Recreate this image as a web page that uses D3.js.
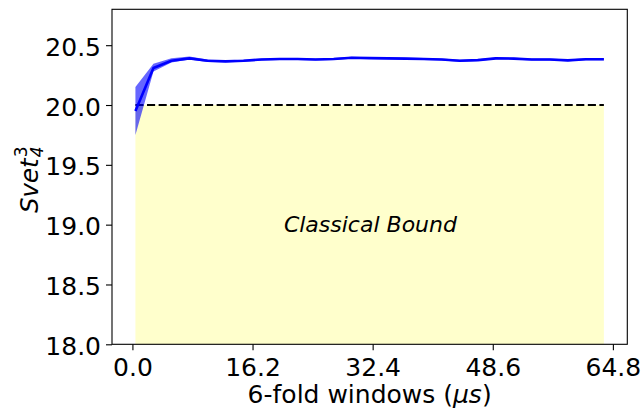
<!DOCTYPE html>
<html>
<head>
<meta charset="utf-8">
<script src="https://cdn.jsdelivr.net/npm/d3@7"></script>
<style>
  html, body { margin: 0; padding: 0; background: #fff; }
  svg { display: block; }
  text { font-family: "DejaVu Sans", sans-serif; fill: #000; }
</style>
</head>
<body>
<svg id="chart" width="642" height="410"></svg>
<script>
// ---- data ----
const windowIndex = d3.range(27);
const windowsUs = windowIndex.map(i => 0.405 * (1 + 6 * i));
const svetMean = [19.95, 20.31, 20.37, 20.39, 20.37, 20.365, 20.37, 20.38, 20.385, 20.385,
                  20.38, 20.385, 20.395, 20.392, 20.39, 20.388, 20.385, 20.38, 20.37, 20.375,
                  20.39, 20.388, 20.38, 20.38, 20.373, 20.382, 20.382];
const svetLower = [19.75, 20.28, 20.355, 20.38, 20.36, 20.357, 20.362, 20.372, 20.377, 20.377,
                   20.372, 20.377, 20.387, 20.384, 20.382, 20.38, 20.377, 20.372, 20.362, 20.367,
                   20.382, 20.38, 20.372, 20.372, 20.365, 20.374, 20.374];
const svetUpper = [20.15, 20.345, 20.39, 20.405, 20.38, 20.373, 20.378, 20.388, 20.393, 20.393,
                   20.388, 20.393, 20.403, 20.4, 20.398, 20.396, 20.393, 20.388, 20.378, 20.383,
                   20.398, 20.396, 20.388, 20.388, 20.381, 20.39, 20.39];
const classicalBound = 20.0;
const yFloor = 18.0;
const xTicks = [0, 16.2, 32.4, 48.6, 64.8];
const yTicks = [18.0, 18.5, 19.0, 19.5, 20.0, 20.5];
const boundLabel = "Classical Bound";
const boundLabelPos = [32.1, 18.94];

// ---- layout ----
const svg = d3.select("#chart");
const L = 112, R = 627.3, T = 9.3, B = 344.3;
const xmin = d3.min(windowsUs), xmax = d3.max(windowsUs);
const pad = (xmax - xmin) * 0.05;
const x = d3.scaleLinear().domain([xmin - pad, xmax + pad]).range([L, R]);
const y = d3.scaleLinear().domain([18, 20.8]).range([B, T]);

const pts = windowsUs.map((w, i) => ({x: w, m: svetMean[i], lo: svetLower[i], hi: svetUpper[i]}));

// classical region fill
svg.append("path")
  .datum(pts)
  .attr("fill", "#ffffcc")
  .attr("d", d3.area().x(d => x(d.x)).y0(y(yFloor)).y1(y(classicalBound)));

// dashed bound line
svg.append("line")
  .attr("x1", x(xmin)).attr("x2", x(xmax))
  .attr("y1", y(classicalBound)).attr("y2", y(classicalBound))
  .attr("stroke", "#000").attr("stroke-width", 2.2)
  .attr("stroke-dasharray", "8.1,3.5");

// error band
svg.append("path")
  .datum(pts)
  .attr("fill", "#0000ff").attr("fill-opacity", 0.6)
  .attr("d", d3.area().x(d => x(d.x)).y0(d => y(d.lo)).y1(d => y(d.hi)));

// mean line
svg.append("path")
  .datum(pts)
  .attr("fill", "none").attr("stroke", "#0000ff").attr("stroke-width", 2.6)
  .attr("stroke-linejoin", "round")
  .attr("d", d3.line().x(d => x(d.x)).y(d => y(d.m)));

// text
svg.append("text")
  .attr("x", x(boundLabelPos[0])).attr("y", y(boundLabelPos[1]))
  .attr("text-anchor", "middle")
  .attr("font-style", "italic")
  .attr("font-size", 22)
  .text(boundLabel);

// axes
const xAxis = svg.append("g").attr("transform", `translate(0,${B})`)
  .call(d3.axisBottom(x).tickValues(xTicks).tickFormat(d3.format(".1f")).tickSize(6).tickPadding(7.7));
const yAxis = svg.append("g").attr("transform", `translate(${L},0)`)
  .call(d3.axisLeft(y).tickValues(yTicks).tickFormat(d3.format(".1f")).tickSize(6).tickPadding(5));
[xAxis, yAxis].forEach(g => {
  g.select(".domain").remove();
  g.selectAll(".tick line").attr("stroke", "#000").attr("stroke-width", 1.1);
  g.selectAll(".tick text").attr("font-size", 25).attr("font-family", "DejaVu Sans").attr("fill", "#000");
});
yAxis.selectAll(".tick text").attr("dy", "0.4em");

// spines
svg.append("rect")
  .attr("x", L).attr("y", T).attr("width", R - L).attr("height", B - T)
  .attr("fill", "none").attr("stroke", "#000").attr("stroke-width", 1.1);

// x label
const xl = svg.append("text")
  .attr("x", (L + R) / 2).attr("y", 403)
  .attr("text-anchor", "middle").attr("font-size", 25);
xl.append("tspan").text("6-fold windows (");
xl.append("tspan").attr("font-style", "italic").text("μs");
xl.append("tspan").text(")");

// y label: Svet_4^3
const yl = svg.append("g").attr("transform", "translate(38,213) rotate(-90)");
const base = yl.append("text").attr("x", 0).attr("y", 0)
  .attr("font-style", "italic").attr("font-size", 24.5).text("Svet");
const w = base.node().getComputedTextLength();
yl.append("text").attr("x", w + 1).attr("y", -11)
  .attr("font-size", 17).text("3");
yl.append("text").attr("x", w + 1).attr("y", 5)
  .attr("font-style", "italic").attr("font-size", 17).text("4");
</script>
</body>
</html>
